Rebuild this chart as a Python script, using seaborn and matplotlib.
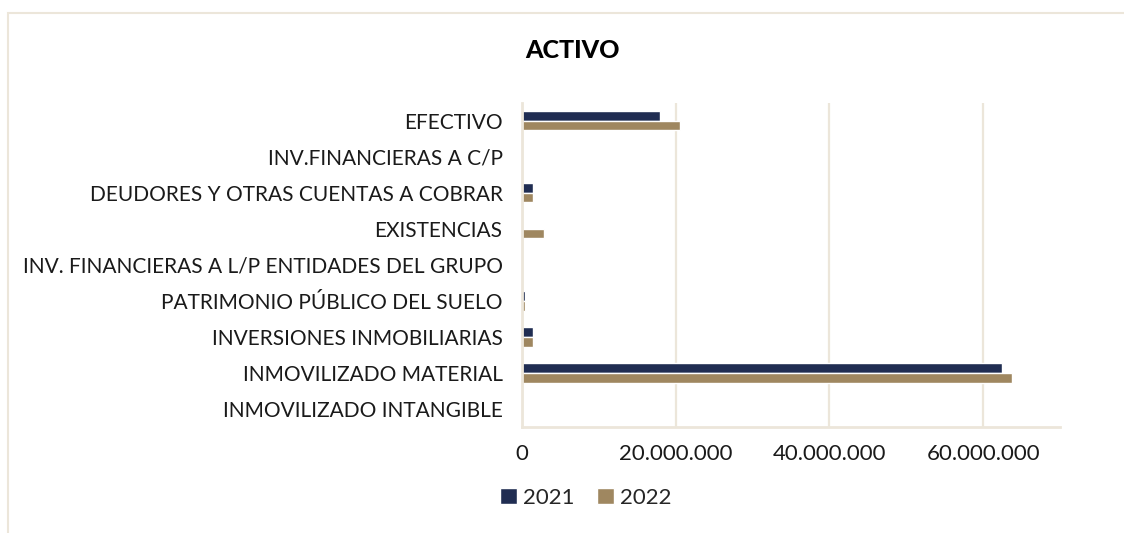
import matplotlib
matplotlib.use('Agg')
import matplotlib.pyplot as plt
import matplotlib.ticker as mticker
from matplotlib.patches import Rectangle
import pandas as pd
import seaborn as sns

# values (euros)
categorias = [
    'EFECTIVO',
    'INV.FINANCIERAS A C/P',
    'DEUDORES Y OTRAS CUENTAS A COBRAR',
    'EXISTENCIAS',
    'INV. FINANCIERAS A L/P ENTIDADES DEL GRUPO',
    'PATRIMONIO PÚBLICO DEL SUELO',
    'INVERSIONES INMOBILIARIAS',
    'INMOVILIZADO MATERIAL',
    'INMOVILIZADO INTANGIBLE',
]
valores_2021 = [17900000, 0, 1400000, 0, 0, 400000, 1400000, 62500000, 0]
valores_2022 = [20600000, 0, 1400000, 2900000, 0, 400000, 1400000, 63800000, 0]
anios = ['2021', '2022']

df = pd.DataFrame({
    'categoria': categorias * 2,
    'valor': valores_2021 + valores_2022,
    'anio': [anios[0]] * len(categorias) + [anios[1]] * len(categorias),
})

sns.set_style('white')
plt.rcParams['font.family'] = ['Lato', 'DejaVu Sans']

navy = '#18295A'
gold = '#A98A55'
beige = '#ECE6DA'

fig = plt.figure(figsize=(11.24, 5.33), dpi=100)
ax = fig.add_axes([0.4644, 0.1989, 0.4786, 0.608])

sns.barplot(data=df, x='valor', y='categoria', hue='anio', orient='y',
            palette=[navy, gold], width=0.53, order=categorias,
            hue_order=anios, ax=ax, legend=True)

ax.set_xlim(0, 70000000)
ax.set_xticks([0, 20000000, 40000000, 60000000])
ax.xaxis.set_major_formatter(mticker.FuncFormatter(
    lambda v, p: f'{v:,.0f}'.replace(',', '.')))
ax.tick_params(axis='both', length=0, colors='#1a1a1a')
ax.tick_params(axis='x', pad=12, labelsize=16)
ax.tick_params(axis='y', pad=14, labelsize=15)
for lbl in ax.get_yticklabels():
    lbl.set_va('center_baseline')
ax.set_xlabel('')
ax.set_ylabel('')

ax.grid(axis='x', color=beige, linewidth=1.6)
ax.set_axisbelow(True)
for s in ['top', 'right']:
    ax.spines[s].set_visible(False)
for s in ['left', 'bottom']:
    ax.spines[s].set_color(beige)
    ax.spines[s].set_linewidth(2)

handles, labels = ax.get_legend_handles_labels()
ax.get_legend().remove()
fig.legend(handles, labels, loc='center left',
           bbox_to_anchor=(480 / 1124, 1 - 498 / 533), ncol=2, frameon=False,
           fontsize=16, handlelength=0.75, handleheight=0.75,
           handletextpad=0.3, columnspacing=1.0)

fig.text(0.509, 1 - 50 / 533, 'ACTIVO', ha='center', va='center',
         fontsize=18, fontweight='black', color='black')

# thin frame around the chart area
fig.patches.append(Rectangle((8 / 1124, -0.05), 1.1, 1 - 13 / 533 + 0.05,
                             transform=fig.transFigure, fill=False,
                             edgecolor=beige, linewidth=1.5))

fig.savefig('out.png', dpi=100, facecolor='white')
